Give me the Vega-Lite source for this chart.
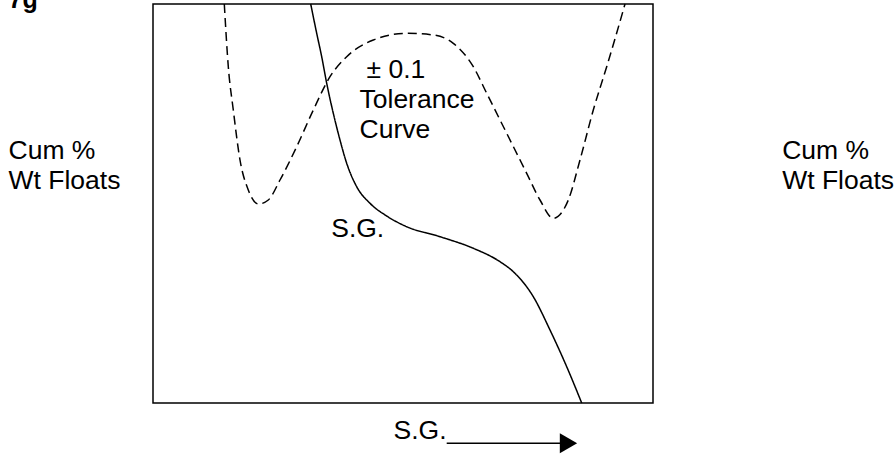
{
  "$schema": "https://vega.github.io/schema/vega-lite/v6.json",
  "width": 500,
  "height": 399,
  "autosize": {"type": "none"},
  "padding": {"left": 153, "top": 4, "right": 241, "bottom": 51},
  "background": "white",
  "datasets": {
    "curves": [
      {"series": "S.G.", "sg": 157.7, "floats": 399},
      {"series": "S.G.", "sg": 163.7, "floats": 369.7},
      {"series": "S.G.", "sg": 168.7, "floats": 346.3},
      {"series": "S.G.", "sg": 173.7, "floats": 319.7},
      {"series": "S.G.", "sg": 180.3, "floats": 289.7},
      {"series": "S.G.", "sg": 187, "floats": 263},
      {"series": "S.G.", "sg": 193.7, "floats": 239.7},
      {"series": "S.G.", "sg": 203.7, "floats": 216.3},
      {"series": "S.G.", "sg": 217, "floats": 199.7},
      {"series": "S.G.", "sg": 233.7, "floats": 187},
      {"series": "S.G.", "sg": 253.7, "floats": 176.3},
      {"series": "S.G.", "sg": 287, "floats": 166.3},
      {"series": "S.G.", "sg": 320.3, "floats": 154.7},
      {"series": "S.G.", "sg": 347, "floats": 141.3},
      {"series": "S.G.", "sg": 360.3, "floats": 131.3},
      {"series": "S.G.", "sg": 380.3, "floats": 106.3},
      {"series": "S.G.", "sg": 397, "floats": 73},
      {"series": "S.G.", "sg": 413.7, "floats": 36.3},
      {"series": "S.G.", "sg": 428.7, "floats": 0},
      {"series": "Tolerance", "sg": 71.3, "floats": 399},
      {"series": "Tolerance", "sg": 75.3, "floats": 336.3},
      {"series": "Tolerance", "sg": 80.3, "floats": 293},
      {"series": "Tolerance", "sg": 87, "floats": 243},
      {"series": "Tolerance", "sg": 95.3, "floats": 213},
      {"series": "Tolerance", "sg": 105.3, "floats": 199},
      {"series": "Tolerance", "sg": 115.3, "floats": 203},
      {"series": "Tolerance", "sg": 127, "floats": 223},
      {"series": "Tolerance", "sg": 143.7, "floats": 256.3},
      {"series": "Tolerance", "sg": 160.3, "floats": 293},
      {"series": "Tolerance", "sg": 177, "floats": 326.3},
      {"series": "Tolerance", "sg": 193.7, "floats": 346.3},
      {"series": "Tolerance", "sg": 220.3, "floats": 363},
      {"series": "Tolerance", "sg": 253.7, "floats": 369.7},
      {"series": "Tolerance", "sg": 280.3, "floats": 368},
      {"series": "Tolerance", "sg": 300.3, "floats": 359.7},
      {"series": "Tolerance", "sg": 320.3, "floats": 336.3},
      {"series": "Tolerance", "sg": 333.7, "floats": 309.7},
      {"series": "Tolerance", "sg": 353.7, "floats": 269.7},
      {"series": "Tolerance", "sg": 373.7, "floats": 229.7},
      {"series": "Tolerance", "sg": 387, "floats": 203},
      {"series": "Tolerance", "sg": 400.3, "floats": 184.7},
      {"series": "Tolerance", "sg": 415.3, "floats": 203},
      {"series": "Tolerance", "sg": 427, "floats": 243},
      {"series": "Tolerance", "sg": 440.3, "floats": 293},
      {"series": "Tolerance", "sg": 453.7, "floats": 336.3},
      {"series": "Tolerance", "sg": 470.3, "floats": 393},
      {"series": "Tolerance", "sg": 472, "floats": 399}
    ],
    "notes": [
      {"label": "± 0.1", "sg": 213.5, "floats": 325},
      {"label": "Tolerance", "sg": 206.5, "floats": 295},
      {"label": "Curve", "sg": 206.5, "floats": 265},
      {"label": "S.G.", "sg": 178.2, "floats": 166}
    ],
    "heading": [
      {"label": "7g", "sg": -144.5, "floats": 395}
    ],
    "arrow": [
      {"sg": 293.7, "sg2": 412, "floats": -40.3, "tip": 415.5}
    ]
  },
  "layer": [
    {
      "data": {"name": "curves"},
      "mark": {"type": "line", "interpolate": "monotone", "color": "#000", "strokeWidth": 1.5},
      "encoding": {
        "x": {
          "field": "sg", "type": "quantitative",
          "scale": {"domain": [0, 500], "nice": false, "zero": false},
          "axis": {
            "title": "S.G.", "domain": false, "ticks": false, "labels": false, "grid": false,
            "titleFont": "Liberation Sans", "titleFontSize": 26.5, "titleFontWeight": "normal",
            "titleColor": "#000", "titleAlign": "left", "titleBaseline": "alphabetic",
            "titleX": 240, "titleY": 35
          }
        },
        "y": {
          "field": "floats", "type": "quantitative",
          "scale": {"domain": [0, 399], "nice": false, "zero": false},
          "axis": {
            "title": ["Cum %", "Wt Floats"], "orient": "left",
            "domain": false, "ticks": false, "labels": false, "grid": false,
            "titleFont": "Liberation Sans", "titleFontSize": 26.5, "titleFontWeight": "normal",
            "titleColor": "#000", "titleAngle": 0, "titleAlign": "left", "titleBaseline": "alphabetic",
            "titleLineHeight": 30, "titleX": -145, "titleY": 154
          }
        },
        "detail": {"field": "series"},
        "strokeDash": {
          "field": "series", "type": "nominal",
          "scale": {"domain": ["S.G.", "Tolerance"], "range": [[1, 0], [9, 5]]},
          "legend": null
        }
      }
    },
    {
      "data": {"name": "notes"},
      "mark": {"type": "text", "align": "left", "baseline": "alphabetic", "font": "Liberation Sans", "fontSize": 26.5, "color": "#000"},
      "encoding": {
        "x": {"field": "sg", "type": "quantitative", "scale": {"domain": [0, 500], "nice": false, "zero": false}},
        "y": {
          "field": "floats", "type": "quantitative",
          "scale": {"domain": [0, 399], "nice": false, "zero": false},
          "axis": {
            "title": ["Cum %", "Wt Floats"], "orient": "right",
            "domain": false, "ticks": false, "labels": false, "grid": false,
            "titleFont": "Liberation Sans", "titleFontSize": 26.5, "titleFontWeight": "normal",
            "titleColor": "#000", "titleAngle": 0, "titleAlign": "left", "titleBaseline": "alphabetic",
            "titleLineHeight": 30, "titleX": 128.7, "titleY": 154
          }
        },
        "text": {"field": "label"}
      }
    },
    {
      "data": {"name": "heading"},
      "mark": {"type": "text", "align": "left", "baseline": "alphabetic", "font": "Liberation Sans", "fontSize": 25, "fontWeight": "bold", "color": "#000"},
      "encoding": {
        "x": {"field": "sg", "type": "quantitative", "scale": {"domain": [0, 500], "nice": false, "zero": false}},
        "y": {"field": "floats", "type": "quantitative", "scale": {"domain": [0, 399], "nice": false, "zero": false}, "axis": null},
        "text": {"field": "label"}
      }
    },
    {
      "data": {"name": "arrow"},
      "mark": {"type": "rule", "color": "#000", "strokeWidth": 1.6},
      "encoding": {
        "x": {"field": "sg", "type": "quantitative", "scale": {"domain": [0, 500], "nice": false, "zero": false}},
        "x2": {"field": "sg2"},
        "y": {"field": "floats", "type": "quantitative", "scale": {"domain": [0, 399], "nice": false, "zero": false}, "axis": null}
      }
    },
    {
      "data": {"name": "arrow"},
      "mark": {"type": "point", "shape": "triangle-right", "filled": true, "color": "#000", "size": 400, "opacity": 1},
      "encoding": {
        "x": {"field": "tip", "type": "quantitative", "scale": {"domain": [0, 500], "nice": false, "zero": false}},
        "y": {"field": "floats", "type": "quantitative", "scale": {"domain": [0, 399], "nice": false, "zero": false}, "axis": null}
      }
    }
  ],
  "resolve": {"scale": {"y": "independent"}, "axis": {"y": "independent"}},
  "config": {
    "view": {"stroke": "#000", "strokeWidth": 1.5, "fill": "white"}
  }
}
